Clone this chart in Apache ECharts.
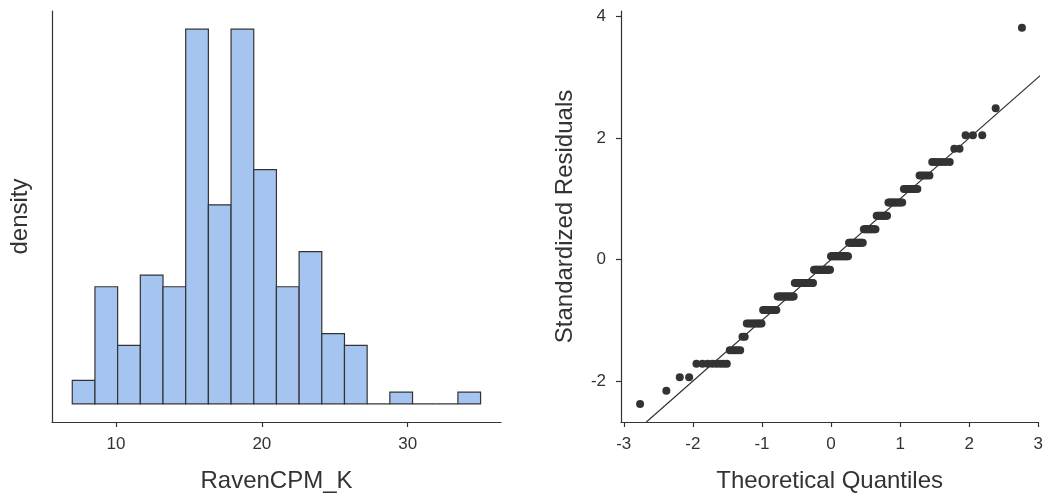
<!DOCTYPE html>
<html>
<head>
<meta charset="utf-8">
<script src="https://cdn.jsdelivr.net/npm/echarts@6/dist/echarts.min.js"></script>
<style>
  html, body { margin: 0; padding: 0; background: #fff; }
  #chart { width: 1046px; height: 498px; }
</style>
</head>
<body>
<div id="chart"></div>
<script>
// Histogram of RavenCPM_K: 18 equal-width bins from 7 to 35
const binStart = 7;
const binEnd = 35;
const binCounts = [2, 10, 5, 11, 10, 32, 17, 32, 20, 10, 13, 6, 5, 0, 1, 0, 0, 1];

// Score frequency table used for the Q-Q plot of standardized residuals
const scoreValues = [7, 8, 9, 10, 11, 12, 13, 14, 15, 16, 17, 18, 19, 20, 21, 22, 23, 24, 25, 26, 27, 29, 35];
const scoreCounts = [1, 1, 2, 8, 5, 2, 9, 10, 14, 18, 17, 18, 14, 11, 9, 10, 8, 5, 6, 2, 3, 1, 1];

// Tick labels
const histTicks = [10, 20, 30];
const qqXTicks = [-3, -2, -1, 0, 1, 2, 3];
const qqYTicks = [-2, 0, 2, 4];

// ---- histogram densities ----
const nBins = binCounts.length;
const binWidth = (binEnd - binStart) / nBins;
const nHist = binCounts.reduce((a, b) => a + b, 0);
const histData = binCounts.map((c, i) => [
  binStart + i * binWidth,
  binStart + (i + 1) * binWidth,
  c / (nHist * binWidth)
]);
const maxDensity = Math.max(...histData.map(d => d[2]));

// ---- standardized residuals and theoretical quantiles ----
function qnorm(p) {
  const a = [-3.969683028665376e+01, 2.209460984245205e+02, -2.759285104469687e+02,
             1.383577518672690e+02, -3.066479806614716e+01, 2.506628277459239e+00];
  const b = [-5.447609879822406e+01, 1.615858368580409e+02, -1.556989798598866e+02,
             6.680131188771972e+01, -1.328068155288572e+01];
  const c = [-7.784894002430293e-03, -3.223964580411365e-01, -2.400758277161838e+00,
             -2.549732539343734e+00, 4.374664141464968e+00, 2.938163982698783e+00];
  const d = [7.784695709041462e-03, 3.224671290700398e-01, 2.445134137142996e+00,
             3.754408661907416e+00];
  const pl = 0.02425, ph = 1 - pl;
  let q, r;
  if (p < pl) {
    q = Math.sqrt(-2 * Math.log(p));
    return (((((c[0]*q+c[1])*q+c[2])*q+c[3])*q+c[4])*q+c[5]) /
           ((((d[0]*q+d[1])*q+d[2])*q+d[3])*q+1);
  }
  if (p <= ph) {
    q = p - 0.5; r = q * q;
    return (((((a[0]*r+a[1])*r+a[2])*r+a[3])*r+a[4])*r+a[5])*q /
           (((((b[0]*r+b[1])*r+b[2])*r+b[3])*r+b[4])*r+1);
  }
  q = Math.sqrt(-2 * Math.log(1 - p));
  return -(((((c[0]*q+c[1])*q+c[2])*q+c[3])*q+c[4])*q+c[5]) /
          ((((d[0]*q+d[1])*q+d[2])*q+d[3])*q+1);
}

const scores = [];
scoreValues.forEach((s, i) => { for (let k = 0; k < scoreCounts[i]; k++) scores.push(s); });
const n = scores.length;
const mean = scores.reduce((a, b) => a + b, 0) / n;
const sd = Math.sqrt(scores.reduce((a, s) => a + (s - mean) * (s - mean), 0) / (n - 1));
const residuals = scores.map(s => (s - mean) / sd).sort((a, b) => a - b);
const qqData = residuals.map((r, i) => [qnorm((i + 0.5) / n), r]);

// axis ranges
const qqXMin = -3.04, qqXMax = 3.0;
const qqYMin = -2.673, qqYMax = 4.091;
const refStart = Math.max(qqXMin, qqYMin);
const refEnd = 3.05;

const ink = '#333333';
const font = '"Liberation Sans", Arial, Helvetica, sans-serif';

const axisCommon = {
  axisLine: { show: true, onZero: false, lineStyle: { color: ink, width: 1.2 } },
  splitLine: { show: false },
  nameTextStyle: { color: ink, fontSize: 24, fontFamily: font },
  nameLocation: 'middle'
};
const tickLabel = { color: ink, fontSize: 17, fontFamily: font, margin: 14 };

const chart = echarts.init(document.getElementById('chart'), null, { renderer: 'canvas' });
chart.setOption({
  animation: false,
  backgroundColor: '#ffffff',
  grid: [
    { left: 52, top: 11, width: 449, height: 415 },
    { left: 621, top: 11, width: 422, height: 415 }
  ],
  xAxis: [
    Object.assign({}, axisCommon, {
      gridIndex: 0, type: 'value', min: 5.61, max: 36.4,
      name: 'RavenCPM_K', nameGap: 47,
      axisTick: { show: true, length: 5, lineStyle: { color: ink, width: 1.2 }, customValues: histTicks },
      axisLabel: Object.assign({}, tickLabel, { customValues: histTicks })
    }),
    Object.assign({}, axisCommon, {
      gridIndex: 1, type: 'value', min: qqXMin, max: qqXMax,
      name: 'Theoretical Quantiles', nameGap: 47,
      axisTick: { show: true, length: 5, lineStyle: { color: ink, width: 1.2 }, customValues: qqXTicks },
      axisLabel: Object.assign({}, tickLabel, { customValues: qqXTicks })
    })
  ],
  yAxis: [
    Object.assign({}, axisCommon, {
      gridIndex: 0, type: 'value',
      min: -0.0484 * maxDensity, max: 1.0484 * maxDensity,
      name: 'density', nameGap: 20,
      axisTick: { show: false },
      axisLabel: { show: false }
    }),
    Object.assign({}, axisCommon, {
      gridIndex: 1, type: 'value', min: qqYMin, max: qqYMax,
      name: 'Standardized Residuals', nameGap: 44,
      axisTick: { show: true, length: 5, lineStyle: { color: ink, width: 1.2 }, customValues: qqYTicks },
      axisLabel: Object.assign({}, tickLabel, { margin: 15, customValues: qqYTicks })
    })
  ],
  series: [
    {
      type: 'custom',
      xAxisIndex: 0, yAxisIndex: 0,
      data: histData,
      renderItem: function (params, api) {
        const p0 = api.coord([api.value(0), 0]);
        const p1 = api.coord([api.value(1), api.value(2)]);
        return {
          type: 'rect',
          shape: { x: p0[0], y: p1[1], width: p1[0] - p0[0], height: p0[1] - p1[1] },
          style: { fill: '#a6c4f0', stroke: ink, lineWidth: 1.2 }
        };
      },
      encode: { x: [0, 1], y: 2 },
      silent: true
    },
    {
      type: 'line',
      xAxisIndex: 1, yAxisIndex: 1,
      data: [[refStart, refStart], [refEnd, refEnd]],
      showSymbol: false,
      clip: false,
      lineStyle: { color: ink, width: 1.2 },
      silent: true
    },
    {
      type: 'scatter',
      xAxisIndex: 1, yAxisIndex: 1,
      data: qqData,
      symbol: 'circle',
      symbolSize: 8,
      itemStyle: { color: ink, opacity: 1 },
      silent: true
    }
  ]
});
</script>
</body>
</html>
